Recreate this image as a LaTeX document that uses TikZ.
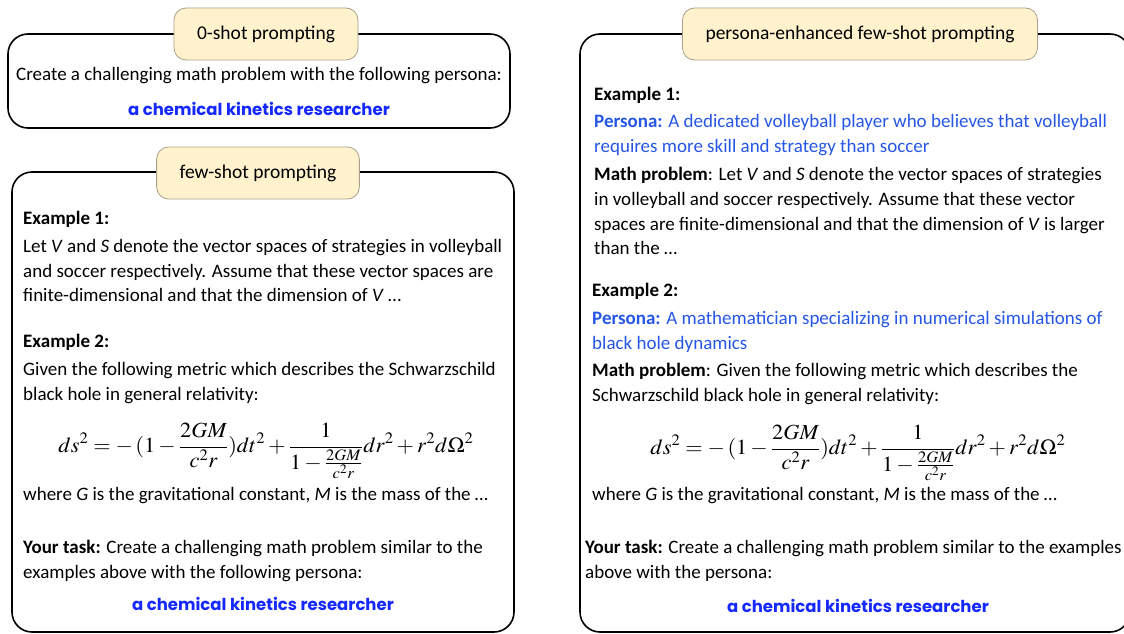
\documentclass[tikz,border=0pt]{standalone}
\usepackage{mathptmx}
\usepackage{graphicx}
\usepackage[no-math]{fontspec}
\setmainfont{Carlito}
\newfontfamily\comicfont{Poppins}
\definecolor{tagfill}{RGB}{255,242,204}
\definecolor{tagline}{RGB}{170,160,140}
\definecolor{personablue}{RGB}{38,86,230}
\definecolor{kinblue}{RGB}{20,40,255}
\newcommand{\metric}{\scalebox{1.04}[1]{$\displaystyle ds^2 = -\,(1-\frac{2GM}{c^2r})dt^2+\frac{1}{1-\frac{2GM}{c^2r}}dr^2+r^2d\Omega^2$}}
\begin{document}
\begin{tikzpicture}[x=1pt,y=-1pt,
    panel/.style={draw=black,line width=1.6pt,rounded corners=20pt},
    tag/.style={draw=tagline,fill=tagfill,line width=0.8pt,rounded corners=12pt,
      minimum height=52pt,inner xsep=23pt,font=\fontsize{19.5}{22}\selectfont},
    txt/.style={anchor=north west,align=left,inner sep=0pt,font=\fontsize{19}{24.8}\selectfont},
    head/.style={txt,font=\bfseries\fontsize{19}{22}\selectfont},
    target/.style={inner sep=0pt,text=kinblue,font=\comicfont\bfseries\fontsize{16.5}{20}\selectfont},
    eqn/.style={inner sep=0pt,font=\fontsize{21.5}{24}\selectfont}]
  \useasboundingbox (0,0) rectangle (1124,634);
  \clip (0,0) rectangle (1124,634);
  % the three panels
  \draw[panel] (8,34) rectangle (510,128);
  \draw[panel] (12,172) rectangle (514,632);
  \draw[panel] (580,34) rectangle (1130,632);
  \node[tag] (zero) at (266,34) {0-shot prompting};
  \node[tag] (few) at (258,173) {few-shot prompting};
  \node[tag] (enh) at (860,34) {persona-enhanced few-shot prompting};
  % 0-shot
  \node[inner sep=0pt,font=\fontsize{19}{22}\selectfont] (zask) at (259,76)
    {Create a challenging math problem with the following persona:};
  \node[target] (zper) at (259,109) {a chemical kinetics researcher};
  % few-shot
  \node[head] (fex1) at (23,211) {Example 1:};
  \node[txt] (ftxt1) at (23,239) {Let \textit{V} and \textit{S} denote the vector spaces of strategies in volleyball\\
    and soccer respectively. Assume that these vector spaces are\\
    finite-dimensional and that the dimension of \textit{V} \dots};
  \node[head] (fex2) at (23,334) {Example 2:};
  \node[txt] (ftxt2) at (23,362) {Given the following metric which describes the Schwarzschild\\
    black hole in general relativity:};
  \node[eqn] (feq) at (266,451) {\metric};
  \node[txt] (fwhere) at (23,487) {where \textit{G} is the gravitational constant, \textit{M} is the mass of the \dots};
  \node[txt] (ftask) at (23,540) {\textbf{Your task:} Create a challenging math problem similar to the\\
    examples above with the following persona:};
  \node[target] (fper) at (263,604) {a chemical kinetics researcher};
  % persona-enhanced few-shot
  \node[head] (eex1) at (594,87) {Example 1:};
  \node[txt,text=personablue] (eper1) at (594,114) {\textbf{Persona:} A dedicated volleyball player who believes that volleyball\\
    requires more skill and strategy than soccer};
  \node[txt] (emath1) at (594,167) {\textbf{Math problem}: Let \textit{V} and \textit{S} denote the vector spaces of strategies\\
    in volleyball and soccer respectively. Assume that these vector\\
    spaces are finite-dimensional and that the dimension of \textit{V} is larger\\
    than the \dots};
  \node[head] (eex2) at (592,283) {Example 2:};
  \node[txt,text=personablue] (eper2) at (592,311) {\textbf{Persona:} A mathematician specializing in numerical simulations of\\
    black hole dynamics};
  \node[txt] (emath2) at (592,363) {\textbf{Math problem}: Given the following metric which describes the\\
    Schwarzschild black hole in general relativity:};
  \node[eqn] (eeq) at (858,453) {\metric};
  \node[txt] (ewhere) at (592,487) {where \textit{G} is the gravitational constant, \textit{M} is the mass of the \dots};
  \node[txt] (etask) at (585,540) {\textbf{Your task:} Create a challenging math problem similar to the examples\\
    above with the persona:};
  \node[target] (eper) at (858,606) {a chemical kinetics researcher};
\end{tikzpicture}
\end{document}
